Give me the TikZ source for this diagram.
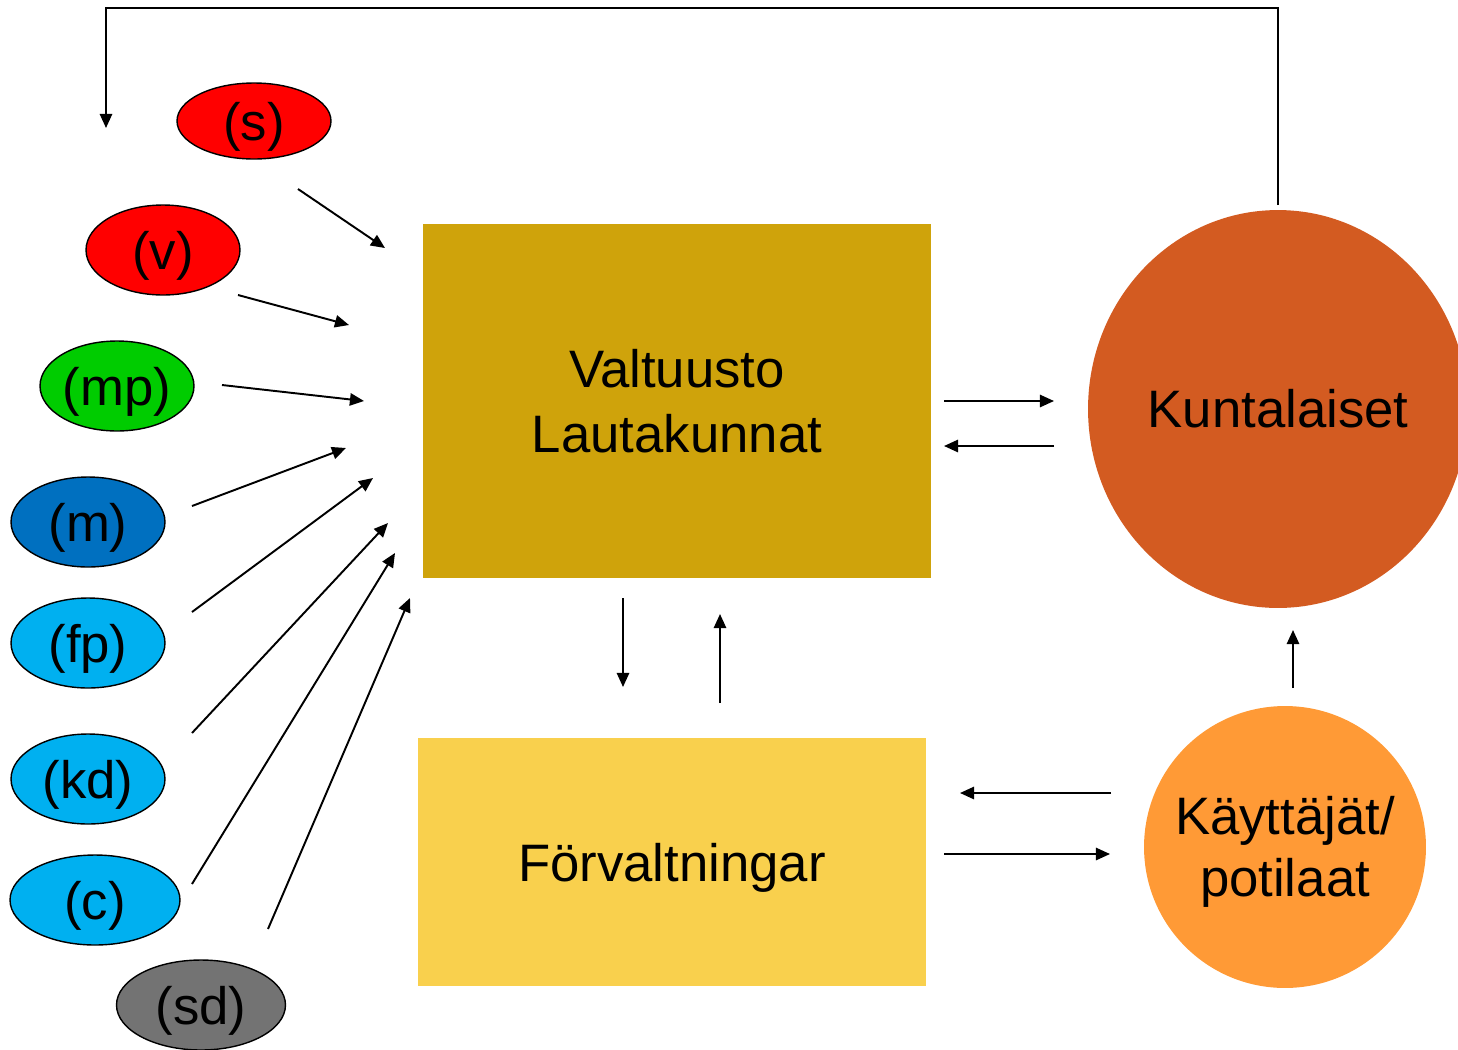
\documentclass[tikz,border=0pt]{standalone}
\usepackage{fontspec}
\setmainfont{Liberation Sans}
\usetikzlibrary{arrows.meta,shapes.geometric}

\definecolor{puna}{HTML}{FF0000}
\definecolor{vihrea}{HTML}{00CC00}
\definecolor{sini}{HTML}{0070C0}
\definecolor{vaaleansini}{HTML}{00B0F0}
\definecolor{harmaa}{HTML}{737373}
\definecolor{kulta}{HTML}{CFA30B}
\definecolor{keltainen}{HTML}{F9D04D}
\definecolor{tiili}{HTML}{D35B21}
\definecolor{oranssi}{HTML}{FF9A36}

% teksti hieman alemmas, koko ennallaan
\newcommand{\alemmas}[1]{\raisebox{-3.4pt}[\height][\depth]{#1}}

\tikzset{
  puolue/.style = {ellipse, draw = black, line width = 0.8pt, minimum width = 3.08cm,
                   minimum height = 1.8cm, inner sep = 0pt, font = \fontsize{30}{36}\selectfont},
  laatikko/.style = {rectangle, minimum width = 10.16cm, inner sep = 0pt, align = center,
                     font = \fontsize{30}{37}\selectfont},
  pallo/.style = {inner sep = 0pt, align = center, font = \fontsize{30}{35}\selectfont},
  pil/.style = {-{Triangle[length = 8pt, width = 7pt]}, line width = 1.1pt}
}

\begin{document}
\begin{tikzpicture}[x = 0.02cm, y = -0.02cm]
\useasboundingbox (0, 0) rectangle (1458, 1049);

% puolueet
\node[puolue, fill = puna, minimum height = 1.52cm] (s) at (254, 121) {\alemmas{(s)}};
\node[puolue, fill = puna] (v) at (163, 250) {\alemmas{(v)}};
\node[puolue, fill = vihrea] (mp) at (117, 386) {\alemmas{(mp)}};
\node[puolue, fill = sini] (m) at (88, 522) {\alemmas{(m)}};
\node[puolue, fill = vaaleansini] (fp) at (88, 643) {\alemmas{(fp)}};
\node[puolue, fill = vaaleansini] (kd) at (88, 779) {\alemmas{(kd)}};
\node[puolue, fill = vaaleansini, minimum width = 3.4cm] (c) at (95, 900) {\alemmas{(c)}};
\node[puolue, fill = harmaa, minimum width = 3.38cm] (sd) at (201, 1005) {\alemmas{(sd)}};

% laatikot ja pallot
\node[laatikko, fill = kulta, minimum height = 7.08cm] (valtuusto) at (677, 401) {Valtuusto\\Lautakunnat};
\node[laatikko, fill = keltainen, minimum height = 4.98cm] (forv) at (672, 862) {\alemmas{Förvaltningar}};
\node[pallo, ellipse, fill = tiili, minimum width = 7.6cm, minimum height = 7.96cm] (kunta) at (1278, 409) {Kuntalaiset};
\node[pallo, circle, fill = oranssi, minimum size = 5.64cm] (kayttajat) at (1285, 847)
  {\alemmas{\begin{tabular}{@{}c@{}}Käyttäjät/\\potilaat\end{tabular}}};

% nuolet puolueista
\coordinate (s1) at (298, 189);  \coordinate (s2) at (385, 248);
\coordinate (v1) at (238, 295);  \coordinate (v2) at (349, 325);
\coordinate (mp1) at (222, 385); \coordinate (mp2) at (364, 401);
\coordinate (m1) at (192, 506);  \coordinate (m2) at (346, 448);
\coordinate (fp1) at (192, 612); \coordinate (fp2) at (373, 478);
\coordinate (kd1) at (192, 733); \coordinate (kd2) at (388, 523);
\coordinate (c1) at (192, 884);  \coordinate (c2) at (395, 553);
\coordinate (sd1) at (268, 929); \coordinate (sd2) at (410, 598);
\draw[pil] (s1) -- (s2);
\draw[pil] (v1) -- (v2);
\draw[pil] (mp1) -- (mp2);
\draw[pil] (m1) -- (m2);
\draw[pil] (fp1) -- (fp2);
\draw[pil] (kd1) -- (kd2);
\draw[pil] (c1) -- (c2);
\draw[pil] (sd1) -- (sd2);

% muut nuolet
\coordinate (vk1) at (944, 401);  \coordinate (vk2) at (1054, 401);
\coordinate (kv1) at (1054, 446); \coordinate (kv2) at (944, 446);
\coordinate (vf1) at (623, 598);  \coordinate (vf2) at (623, 687);
\coordinate (fv1) at (720, 703);  \coordinate (fv2) at (720, 614);
\coordinate (af1) at (1111, 793); \coordinate (af2) at (960, 793);
\coordinate (fa1) at (944, 854);  \coordinate (fa2) at (1110, 854);
\coordinate (ak1) at (1293, 688); \coordinate (ak2) at (1293, 630);
\draw[pil] (vk1) -- (vk2);
\draw[pil] (kv1) -- (kv2);
\draw[pil] (vf1) -- (vf2);
\draw[pil] (fv1) -- (fv2);
\draw[pil] (af1) -- (af2);
\draw[pil] (fa1) -- (fa2);
\draw[pil] (ak1) -- (ak2);

% paluu ylhäältä
\coordinate (paluu) at (1278, 205);
\coordinate (yla) at (1278, 8);
\coordinate (kohde) at (106, 128);
\draw[pil] (paluu) -- (yla) -| (kohde);
\end{tikzpicture}
\end{document}
